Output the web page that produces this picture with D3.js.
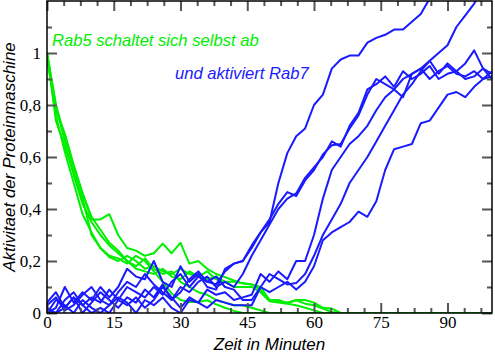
<!DOCTYPE html>
<html><head><meta charset="utf-8">
<script src="https://cdn.jsdelivr.net/npm/d3@7"></script>
<style>body{margin:0;background:#fff}</style>
</head><body><svg id="c" width="495" height="353"></svg>
<script>
// time grid (minutes)
const minutes = [0,2,4,6,8,10,12,14,16,18,20,22,24,26,28,30,32,34,36,38,40,42,44,46,48,50,52,54,56,58,60,62,64,66,68,70,72,74,76,78,80,82,84,86,88,90,92,94,96,98,100];

// Rab5 (green) trajectories
const rab5_1 = [1.0,0.80,0.68,0.56,0.46,0.36,0.36,0.38,0.3,0.25,0.24,0.22,0.23,0.267,0.23,0.27,0.19,0.2,0.17,0.15,0.138,0.125,0.113,0.11,0.1,0.05,0.05,0.038,0.049,0.036,0.03,0.017,0.004,0,0,0,0,0,0,0,0,0,0,0,0,0,0,0,0,0,0];
const rab5_2 = [1.0,0.74,0.64,0.54,0.44,0.3,0.25,0.215,0.2,0.22,0.2,0.17,0.18,0.16,0.15,0.17,0.15,0.14,0.16,0.13,0.12,0.12,0.115,0.11,0.09,0.05,0.045,0.04,0.05,0.05,0.04,0.02,0.017,0,0,0,0,0,0,0,0,0,0,0,0,0,0,0,0,0,0];
const rab5_3 = [1.0,0.8,0.66,0.53,0.42,0.35,0.3,0.26,0.23,0.2,0.18,0.21,0.17,0.15,0.16,0.12,0.1,0.08,0.07,0.05,0.04,0.03,0.03,0.02,0.01,0,0,0,0,0,0,0,0,0,0,0,0,0,0,0,0,0,0,0,0,0,0,0,0,0,0];
const rab5_4 = [0.98,0.78,0.69,0.57,0.46,0.37,0.32,0.27,0.24,0.2,0.17,0.16,0.15,0.17,0.14,0.13,0.16,0.14,0.13,0.14,0.12,0.1,0.1,0.1,0.08,0.045,0.04,0.036,0.03,0.02,0.01,0,0,0,0,0,0,0,0,0,0,0,0,0,0,0,0,0,0,0,0];
const rab5_5 = [1.0,0.76,0.62,0.5,0.38,0.31,0.25,0.22,0.21,0.19,0.22,0.2,0.16,0.12,0.075,0.05,0.042,0.042,0.049,0.033,0.02,0.008,0,0,0,0,0,0,0,0,0,0,0,0,0,0,0,0,0,0,0,0,0,0,0,0,0,0,0,0,0];

// Rab7 (blue) trajectories
const rab7_1 = [0,0.02,0.1,0.04,0.08,0.05,0.1,0.06,0.1,0.17,0.14,0.13,0.2,0.12,0.1,0.18,0.12,0.15,0.1,0.09,0.17,0.19,0.2,0.25,0.31,0.35,0.5,0.615,0.68,0.71,0.8,0.84,0.94,0.975,0.99,0.99,1.04,1.058,1.07,1.09,1.09,1.12,1.15,1.21,1.26,1.3,1.33,1.36,1.39,1.42,1.45];
const rab7_2 = [0.04,0.08,0.02,0.06,0.0,0.04,0.08,0.05,0.02,0.06,0.04,0.09,0.06,0.11,0.05,0.08,0.13,0.16,0.12,0.14,0.1,0.09,0.05,0.05,0.1,0.15,0.13,0.11,0.115,0.15,0.22,0.3,0.36,0.42,0.5,0.55,0.6,0.66,0.72,0.78,0.84,0.88,0.93,0.97,1.0,1.03,1.1,1.145,1.19,1.25,1.3];
const rab7_3 = [0.02,0,0.05,0.08,0.03,0.06,0.04,0.09,0.05,0.1,0.08,0.06,0.1,0.07,0.12,0.15,0.1,0.14,0.12,0.11,0.16,0.19,0.2,0.26,0.31,0.36,0.42,0.465,0.45,0.51,0.55,0.61,0.645,0.65,0.71,0.76,0.84,0.9,0.88,0.86,0.9,0.92,0.94,0.9,0.93,0.95,0.92,0.91,0.93,0.9,0.91];
const rab7_4 = [0,0.05,0.03,0,0.05,0.02,0,0.03,0.06,0.04,0,0.05,0.03,0.06,0.02,0,0.05,0.04,0.09,0.07,0.08,0.05,0.06,0.07,0.15,0.12,0.16,0.13,0.2,0.2,0.3,0.44,0.55,0.6,0.65,0.68,0.72,0.78,0.83,0.86,0.83,0.92,0.94,0.97,0.92,0.96,0.93,0.96,1.01,0.94,0.92];
const rab7_5 = [0.01,0,0.02,0.06,0.03,0,0.02,0,0.05,0.03,0.06,0.02,0.05,0.1,0.06,0.02,0.06,0.04,0.02,0.05,0.04,0.03,0.03,0.03,0.1,0.08,0.1,0.12,0.09,0.12,0.18,0.28,0.31,0.33,0.35,0.39,0.37,0.43,0.55,0.63,0.64,0.65,0.73,0.74,0.79,0.84,0.85,0.83,0.87,0.9,0.93];
const rab7_6 = [0.03,0.06,0.01,0.03,0.07,0.1,0.05,0.03,0.08,0.12,0.1,0.15,0.11,0.08,0.05,0.1,0.08,0.12,0.14,0.1,0.12,0.1,0.15,0.22,0.28,0.34,0.4,0.44,0.46,0.52,0.56,0.6,0.66,0.64,0.72,0.77,0.86,0.88,0.91,0.87,0.93,0.9,0.92,0.95,0.9,0.92,0.93,0.9,0.91,0.94,0.9];

const greenSeries = [rab5_1, rab5_2, rab5_3, rab5_4, rab5_5];
const blueSeries = [rab7_1, rab7_2, rab7_3, rab7_4, rab7_5, rab7_6];

const xTicks = [0,15,30,45,60,75,90];
const yTicks = [0,0.2,0.4,0.6,0.8,1];
const xMinor = [3.75,7.5,11.25,18.75,22.5,26.25,33.75,37.5,41.25,48.75,52.5,56.25,63.75,67.5,71.25,78.75,82.5,86.25,93.75,97.5];
const yMinor = [0.1,0.3,0.5,0.7,0.9,1.1];

const L = 47, R = 492, T = 1, B = 313;
const x = d3.scaleLinear().domain([0,100]).range([L,R]);
const y = d3.scaleLinear().domain([0,1.2]).range([B,T]);
const svg = d3.select("#c");

svg.append("clipPath").attr("id","clip").append("rect")
  .attr("x",L).attr("y",T).attr("width",R-L).attr("height",B-T);

const line = d3.line().x((d,i)=>x(minutes[i])).y(d=>y(d));
const g = svg.append("g").attr("clip-path","url(#clip)");
greenSeries.forEach(s => g.append("path").attr("d", line(s)).attr("fill","none")
  .attr("stroke","#00ee00").attr("stroke-width",2).attr("stroke-linejoin","round"));
blueSeries.forEach(s => g.append("path").attr("d", line(s)).attr("fill","none")
  .attr("stroke","#1a1aff").attr("stroke-width",2).attr("stroke-linejoin","round"));

// axes with inward ticks
const tickColor = "#555";
function styleAxis(sel){
  sel.select(".domain").remove();
  sel.selectAll(".tick line").attr("stroke",tickColor).attr("stroke-width",2);
}
const fontSerif = "'Liberation Serif','Times New Roman',serif";
const xb = svg.append("g").attr("transform",`translate(0,${B})`)
  .call(d3.axisBottom(x).tickValues(xTicks).tickSizeInner(-10).tickSizeOuter(0).tickPadding(3).tickFormat(d3.format("d")));
styleAxis(xb);
xb.selectAll("text").style("font-family",fontSerif).style("font-size","17px").attr("fill","#000");
const xbm = svg.append("g").attr("transform",`translate(0,${B})`)
  .call(d3.axisBottom(x).tickValues(xMinor).tickSizeInner(-5).tickSizeOuter(0).tickFormat(""));
styleAxis(xbm);
const xt = svg.append("g").attr("transform",`translate(0,${T})`)
  .call(d3.axisTop(x).tickValues(xTicks).tickSizeInner(-10).tickSizeOuter(0).tickFormat(""));
styleAxis(xt);
const xtm = svg.append("g").attr("transform",`translate(0,${T})`)
  .call(d3.axisTop(x).tickValues(xMinor).tickSizeInner(-5).tickSizeOuter(0).tickFormat(""));
styleAxis(xtm);

const yl = svg.append("g").attr("transform",`translate(${L},0)`)
  .call(d3.axisLeft(y).tickValues(yTicks).tickSizeInner(-10).tickSizeOuter(0).tickPadding(6)
    .tickFormat(d => d===0 ? "0" : d===1 ? "1" : d3.format(".1f")(d).replace(".",",")));
styleAxis(yl);
yl.selectAll("text").style("font-family",fontSerif).style("font-size","17px").attr("fill","#000");
const ylm = svg.append("g").attr("transform",`translate(${L},0)`)
  .call(d3.axisLeft(y).tickValues(yMinor).tickSizeInner(-5).tickSizeOuter(0).tickFormat(""));
styleAxis(ylm);
const yr = svg.append("g").attr("transform",`translate(${R},0)`)
  .call(d3.axisRight(y).tickValues(yTicks).tickSizeInner(-10).tickSizeOuter(0).tickFormat(""));
styleAxis(yr);
const yrm = svg.append("g").attr("transform",`translate(${R},0)`)
  .call(d3.axisRight(y).tickValues(yMinor).tickSizeInner(-5).tickSizeOuter(0).tickFormat(""));
styleAxis(yrm);

// frame
svg.append("rect").attr("x",L).attr("y",T).attr("width",R-L).attr("height",B-T)
  .attr("fill","none").attr("stroke","#000").attr("stroke-width",1.5);

const fontSans = "'Liberation Sans',Arial,sans-serif";
svg.append("text").attr("x",(L+R)/2).attr("y",350).attr("text-anchor","middle")
  .attr("font-family",fontSans).attr("font-style","italic").attr("font-size",17).text("Zeit in Minuten");
svg.append("text").attr("transform",`translate(15,${(T+B)/2}) rotate(-90)`).attr("text-anchor","middle")
  .attr("font-family",fontSans).attr("font-style","italic").attr("font-size",17).text("Aktivitaet der Proteinmaschine");
svg.append("text").attr("x",52).attr("y",46).attr("font-family",fontSans).attr("font-style","italic")
  .attr("font-size",16.6).attr("fill","#00ee00").text("Rab5 schaltet sich selbst ab");
svg.append("text").attr("x",175).attr("y",79).attr("font-family",fontSans).attr("font-style","italic")
  .attr("font-size",16.6).attr("fill","#1a1aff").text("und aktiviert Rab7");
</script></body></html>
